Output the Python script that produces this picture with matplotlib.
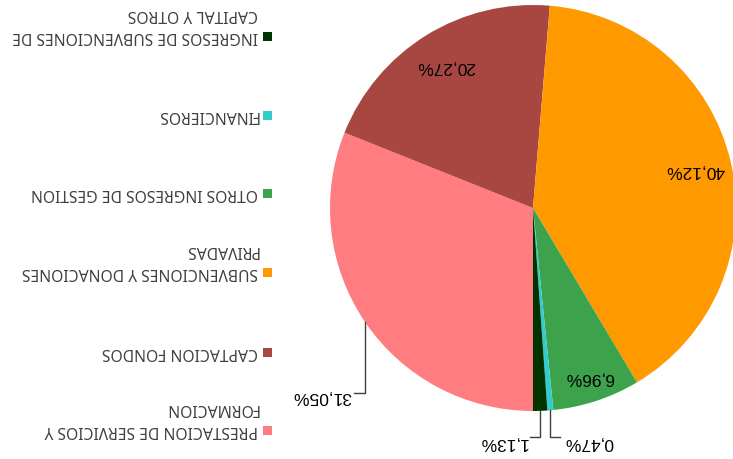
import numpy as np
import matplotlib
matplotlib.use("Agg")
import matplotlib.pyplot as plt
from matplotlib.patches import Rectangle

# Data (in the original chart's order)
categories = [
    "PRESTACION DE SERVICIOS Y\nFORMACION",
    "CAPTACION FONDOS",
    "SUBVENCIONES Y DONACIONES\nPRIVADAS",
    "OTROS INGRESOS DE GESTION",
    "FINANCIEROS",
    "INGRESOS DE SUBVENCIONES DE\nCAPITAL Y OTROS",
]
values = [31.05, 20.27, 40.12, 6.96, 0.47, 1.13]
pct_labels = ["31,05%", "20,27%", "40,12%", "6,96%", "0,47%", "1,13%"]
colors = ["#FF7C80", "#A84642", "#FF9900", "#3DA24C", "#33CCCC", "#003300"]

W, H = 733, 459
fig = plt.figure(figsize=(W / 100, H / 100), dpi=100)
ax = fig.add_axes([0, 0, 1, 1])

# Whole chart is displayed rotated by 180 degrees
cx, cy, R = 533, H - 208, 203
wedges, _ = ax.pie(values, colors=colors, startangle=270, counterclock=False,
                   center=(cx, cy), radius=R, frame=True,
                   wedgeprops=dict(linewidth=0))
ax.set_xlim(0, W)
ax.set_ylim(0, H)
ax.set_aspect("equal")
ax.axis("off")

pfont = dict(family="Liberation Sans", size=12.5, color="#000000", rotation=180,
             ha="center", va="center")

# inside labels distance factors, outside labels with leader lines
inside = {1: 0.82, 2: 0.82, 3: 0.88}
for i, w in enumerate(wedges):
    mid = np.deg2rad((w.theta1 + w.theta2) / 2)
    if i in inside:
        d = inside[i] * R
        ax.text(cx + d * np.cos(mid), cy + d * np.sin(mid), pct_labels[i], **pfont)
    else:
        ex, ey = cx + R * np.cos(mid), cy + R * np.sin(mid)
        if i == 0:
            y2 = H - 393
            x3 = ex - 11
            ax.plot([ex, ex, x3], [ey, y2, y2], color="#404040", lw=1)
            ax.text(x3 - 3, y2 - 3, pct_labels[i], **{**pfont, "ha": "right"})
        elif i == 4:
            y2 = H - 437
            x3 = ex + 10
            ax.plot([ex, ex, x3], [ey, y2, y2], color="#404040", lw=1)
            ax.text(x3 + 4, y2 - 5, pct_labels[i], **{**pfont, "ha": "left"})
        elif i == 5:
            y2 = H - 437
            x3 = ex - 10
            ax.plot([ex, ex, x3], [ey, y2, y2], color="#404040", lw=1)
            ax.text(x3 - 3, y2 - 5, pct_labels[i], **{**pfont, "ha": "right"})

# Legend (rotated 180 degrees)
leg_y = [430, 352, 272, 193, 115, 36]
lfont = dict(family="Noto Sans", size=11.3, color="#404040", rotation=180,
             ha="right", va="center")
for cat, col, y in zip(categories, colors, leg_y):
    ax.add_patch(Rectangle((263, H - y - 4.5), 9, 9, facecolor=col, edgecolor="none"))
    for j, line in enumerate(cat.split("\n")):
        ax.text(258, H - (y - 22 * j), line, **lfont)

fig.savefig("out.png", dpi=100)
